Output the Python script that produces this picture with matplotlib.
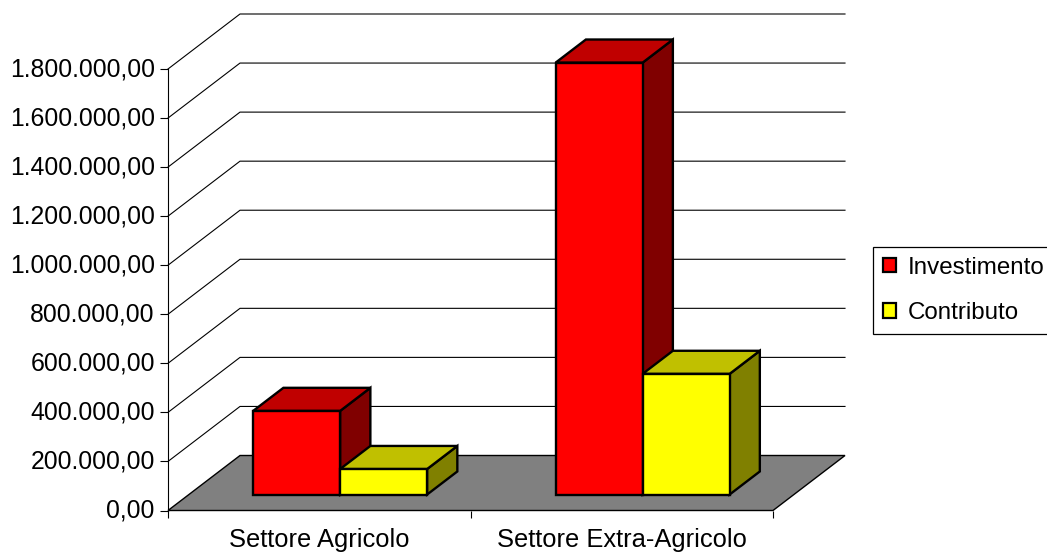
import matplotlib
matplotlib.use("Agg")
from matplotlib import pyplot as plt
from matplotlib.patches import Patch, Polygon
from matplotlib.transforms import ScaledTranslation

plt.rcParams['font.family'] = ['Liberation Sans', 'DejaVu Sans']

categories = ["Settore Agricolo", "Settore Extra-Agricolo"]
investimento = [341000, 1761000]
contributo = [104000, 492000]
y_ticks = [0, 200000, 400000, 600000, 800000, 1000000, 1200000, 1400000, 1600000, 1800000]
y_labels = ["0,00", "200.000,00", "400.000,00", "600.000,00", "800.000,00", "1.000.000,00",
            "1.200.000,00", "1.400.000,00", "1.600.000,00", "1.800.000,00"]

W, H = 1047, 554
# plot area in pixels, front plane is 168..773 / 510..69
fig = plt.figure(figsize=(W / 100, H / 100), dpi=100)
ax = fig.add_axes([168 / W, (H - 510.5) / H, (845 - 168) / W, (510.5 - 14) / H])
xscale = 302.5
yscale = 441.5 / 1800000
ax.set_xlim(0, (845 - 168) / xscale)
ax.set_ylim(0, (510.5 - 14) / yscale)
for s in ["top", "right", "bottom"]:
    ax.spines[s].set_visible(False)
ax.spines["left"].set_bounds(0, 1800000)
ax.spines["left"].set_linewidth(0.8)
ax.patch.set_visible(False)

depth_x = 72 / xscale
depth_y = 55 / yscale


def proj(x, y, d):
    # d is the depth, 0 front plane, 1 back wall
    return (x + d * depth_x, y + d * depth_y)


def poly(pts, color, lw, z):
    ax.add_patch(Polygon(pts, closed=True, facecolor=color, edgecolor="black", linewidth=lw,
                         joinstyle="miter", zorder=z, clip_on=False))


# floor
poly([proj(0, 0, 0), proj(0, 0, 1), proj(2, 0, 1), proj(2, 0, 0)], "#808080", 1.0, 1)

# grid on the two walls
for v in y_ticks[1:]:
    a = proj(0, v, 0)
    b = proj(0, v, 1)
    c = proj(2, v, 1)
    ax.plot([a[0], b[0], c[0]], [a[1], b[1], c[1]], color="black", lw=0.8, zorder=1, clip_on=False)

ax.set_yticks(y_ticks)
ax.set_yticklabels(y_labels, fontsize=17.8)
ax.set_xticks([0, 1, 2])
ax.set_xticklabels([])
ax.tick_params(axis="y", length=5.5, width=0.8, pad=4)
ax.tick_params(axis="x", length=5, width=0.8)
# labels sit a little higher than the ticks
for t in ax.get_yticklabels():
    t.set_transform(t.get_transform() + ScaledTranslation(0, 1.5 / 72, fig.dpi_scale_trans))
for i, c in enumerate(categories):
    ax.annotate(c, (i + 0.5, 0), xytext=(0, -12.5), textcoords="offset points", ha="center",
                va="top", fontsize=18.4, annotation_clip=False)

bar_w = 0.2875
d0, d1 = 0.29, 0.71
lw = 1.7


def bar3d(x, v, front, top, side, z):
    x2 = x + bar_w
    poly([proj(x2, 0, d0), proj(x2, 0, d1), proj(x2, v, d1), proj(x2, v, d0)], side, lw, z)
    poly([proj(x, v, d0), proj(x, v, d1), proj(x2, v, d1), proj(x2, v, d0)], top, lw, z)
    poly([proj(x, 0, d0), proj(x2, 0, d0), proj(x2, v, d0), proj(x, v, d0)], front, lw, z)


for i in range(len(categories)):
    bar3d(i + 0.5 - bar_w, investimento[i], "#FF0000", "#C00000", "#800000", 3 + i)
    bar3d(i + 0.5, contributo[i], "#FFFF00", "#C0C000", "#808000", 3 + i)

handles = [Patch(facecolor="#FF0000", edgecolor="black", linewidth=1.6, label="Investimento"),
           Patch(facecolor="#FFFF00", edgecolor="black", linewidth=1.6, label="Contributo")]
leg = fig.legend(handles=handles, loc="upper left", bbox_to_anchor=(873 / W, (H - 246.5) / H),
                 fontsize=17.4, handlelength=0.55, handleheight=0.55, handletextpad=0.45,
                 labelspacing=0.97, borderpad=0.42, borderaxespad=0, fancybox=False,
                 edgecolor="black", framealpha=1)
leg.get_frame().set_linewidth(0.9)

fig.savefig("out.png", dpi=100)
